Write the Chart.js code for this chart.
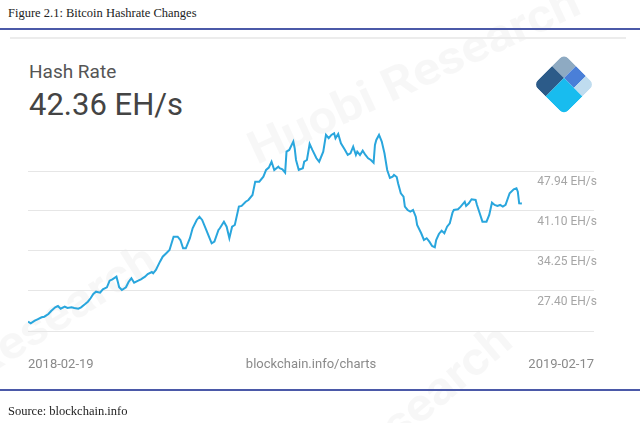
<!DOCTYPE html>
<html lang="en">
<head>
<meta charset="UTF-8">
<title>Figure 2.1: Bitcoin Hashrate Changes</title>
<style>
  body {
    margin: 0;
    width: 640px;
    height: 423px;
    position: relative;
    overflow: hidden;
    background: #fff;
    font-family: Roboto, Arial, sans-serif;
  }
  .serif {
    position: absolute;
    left: 8px;
    font-family: "Liberation Serif", "Times New Roman", serif;
    font-size: 12.5px;
    line-height: 1;
    color: #222;
  }
  .rule {
    position: absolute;
    left: 0;
    width: 640px;
    height: 2px;
    background: #4b59a8;
  }
  .card-edge {
    position: absolute;
    left: 10px;
    right: 14px;
    top: 37px;
    height: 2px;
    background: #ececec;
  }
  .head {
    position: absolute;
    left: 29px;
    line-height: 1;
    color: #555;
  }
  #watermark, #logo, #chart {
    position: absolute;
    left: 0;
    top: 0;
  }
</style>
</head>
<body>
  <svg id="watermark" width="640" height="423">
    <g font-family="Roboto, Arial, sans-serif" font-weight="bold" font-size="46" fill="#000" fill-opacity="0.03">
      <text x="257" y="165" transform="rotate(-25 257 165)" textLength="360" lengthAdjust="spacingAndGlyphs">Huobi Research</text>
      <text x="160" y="268" text-anchor="end" transform="rotate(-32 160 268)" textLength="360" lengthAdjust="spacingAndGlyphs">Huobi Research</text>
      <text x="515" y="345" text-anchor="end" transform="rotate(-40 515 345)" textLength="360" lengthAdjust="spacingAndGlyphs">Huobi Research</text>
    </g>
  </svg>

  <div class="serif" style="top:7px;">Figure 2.1: Bitcoin Hashrate Changes</div>
  <div class="rule" style="top:28px;"></div>
  <div class="card-edge"></div>

  <div class="head" style="top:62px; font-size:19px;">Hash Rate</div>
  <div class="head" style="top:89px; font-size:31px; color:#444;">42.36 EH/s</div>

  <!-- blockchain.info logo -->
  <svg id="logo" width="640" height="423">
    <defs>
      <clipPath id="diamond">
        <rect x="0" y="0" width="43" height="43" rx="6"></rect>
      </clipPath>
    </defs>
    <g transform="translate(564 54) rotate(45)" clip-path="url(#diamond)">
      <rect x="0" y="0" width="17" height="17" fill="#8eaac2"></rect>
      <rect x="17" y="0" width="14" height="17" fill="#4a7fd8"></rect>
      <rect x="31" y="0" width="12" height="17" fill="#bfdcef"></rect>
      <rect x="0" y="17" width="17" height="26" fill="#2c5b89"></rect>
      <rect x="17" y="17" width="26" height="26" fill="#18bcef"></rect>
    </g>
  </svg>

  <canvas id="chart" width="640" height="423"></canvas>

  <div class="rule" style="top:389px;"></div>
  <div class="serif" style="top:405px;">Source: blockchain.info</div>

<script src="https://cdn.jsdelivr.net/npm/chart.js"></script>
<script>
// days since 2018-02-19
const dayOffsets = [0, 2, 5, 7, 10, 12, 15, 17, 20, 22,
  24, 27, 29, 32, 34, 37, 39, 42, 44, 46,
  48, 50, 53, 55, 58, 60, 62, 65, 66, 67,
  69, 72, 74, 76, 78, 81, 83, 86, 88, 91,
  92, 94, 97, 99, 102, 104, 107, 110, 112, 114,
  116, 119, 121, 124, 126, 128, 131, 133, 135, 137,
  140, 141, 144, 146, 148, 150, 152, 155, 157, 160,
  162, 165, 167, 170, 173, 175, 177, 179, 181, 184,
  185, 187, 189, 190, 192, 195, 196, 197, 199, 202,
  203, 205, 207, 209, 212, 214, 217, 219, 221, 223,
  225, 226, 228, 230, 233, 235, 237, 239, 241, 242,
  244, 246, 248, 250, 252, 254, 255, 256, 258, 260,
  262, 264, 266, 268, 269, 271, 272, 274, 276, 277,
  279, 281, 283, 285, 286, 289, 291, 293, 295, 297,
  299, 300, 302, 304, 306, 308, 310, 312, 313, 316,
  318, 321, 322, 324, 326, 329, 330, 332, 334, 337,
  339, 341, 343, 345, 347, 349, 351, 354, 357, 359,
  360, 361, 363];

// hash rate in EH/s
const hashRate = [22.14, 21.87, 22.31, 22.55, 22.90, 23.00, 23.46, 23.98, 24.61, 24.83,
  24.37, 24.71, 24.49, 24.61, 24.49, 24.37, 24.61, 25.17, 25.57, 26.15,
  26.89, 27.28, 27.11, 27.69, 28.03, 29.16, 29.40, 29.85, 28.99, 28.03,
  27.57, 28.03, 28.99, 29.58, 28.82, 29.16, 29.40, 29.85, 30.31, 30.65,
  30.43, 31.00, 32.42, 33.27, 33.96, 34.42, 36.70, 36.70, 36.13, 34.71,
  34.71, 36.43, 38.14, 39.56, 40.12, 39.56, 37.85, 36.70, 35.57, 35.84,
  37.85, 38.14, 39.27, 38.41, 36.43, 38.41, 38.70, 41.84, 41.96, 42.69,
  42.98, 43.84, 46.12, 46.12, 46.97, 48.12, 48.52, 49.54, 48.12, 48.69,
  48.41, 48.24, 47.66, 51.26, 51.55, 52.97, 51.84, 49.83, 48.12, 48.41,
  49.54, 49.83, 52.57, 51.55, 50.12, 49.54, 51.26, 54.12, 53.55, 54.12,
  54.41, 53.55, 54.29, 52.69, 51.55, 50.69, 50.98, 52.11, 50.69, 51.26,
  50.69, 51.43, 50.69, 50.12, 49.83, 49.37, 52.40, 53.26, 54.12, 52.97,
  50.98, 48.12, 46.75, 46.97, 47.27, 46.92, 45.84, 44.13, 43.55, 41.84,
  41.27, 40.98, 41.27, 40.12, 38.70, 37.28, 36.13, 36.43, 35.84, 35.11,
  34.88, 36.13, 37.16, 37.73, 37.28, 38.41, 38.99, 40.81, 41.27, 41.39,
  41.84, 42.69, 41.96, 42.42, 43.10, 42.98, 42.13, 40.71, 39.27, 39.27,
  40.42, 42.52, 42.13, 41.96, 42.13, 41.84, 42.13, 44.13, 44.82, 44.99,
  44.41, 42.42, 42.36];

const yTicks = [20.55, 27.40, 34.25, 41.10, 47.94];
const yTickLabels = ['', '27.40 EH/s', '34.25 EH/s', '41.10 EH/s', '47.94 EH/s'];
const xTickDays = [0, 208, 416];
const xLabels = ['2018-02-19', 'blockchain.info/charts', '2019-02-17'];

new Chart(document.getElementById('chart'), {
  type: 'line',
  data: {
    datasets: [{
      data: dayOffsets.map((d, i) => ({ x: d, y: hashRate[i] })),
      borderColor: '#29a6dd',
      borderWidth: 2,
      pointRadius: 0,
      tension: 0,
      fill: false
    }]
  },
  options: {
    responsive: false,
    animation: false,
    devicePixelRatio: 1,
    layout: { padding: { left: 28, right: 46, top: 91, bottom: 52 } },
    plugins: { legend: { display: false }, tooltip: { enabled: false } },
    scales: {
      x: {
        type: 'linear',
        min: 0,
        max: 416,
        grid: { display: false },
        border: { display: false },
        afterBuildTicks: (scale) => { scale.ticks = xTickDays.map(v => ({ value: v })); },
        afterFit: (scale) => { scale.height = 40; },
        ticks: {
          autoSkip: false,
          maxRotation: 0,
          align: 'inner',
          padding: 18,
          color: '#8a8a8a',
          font: { family: 'Roboto', size: 13 },
          callback: (v, i) => xLabels[i]
        }
      },
      y: {
        position: 'right',
        min: 20.55,
        max: 61.64,
        border: { display: false },
        grid: { color: '#e6e6e6', drawTicks: false },
        afterBuildTicks: (scale) => { scale.ticks = yTicks.map(v => ({ value: v })); },
        afterFit: (scale) => { scale.width = 0; },
        ticks: {
          mirror: true,
          padding: 3,
          labelOffset: 11,
          color: '#a6a6a6',
          font: { family: 'Roboto', size: 12 },
          callback: (v, i) => yTickLabels[i]
        }
      }
    }
  }
});
</script>
</body>
</html>
